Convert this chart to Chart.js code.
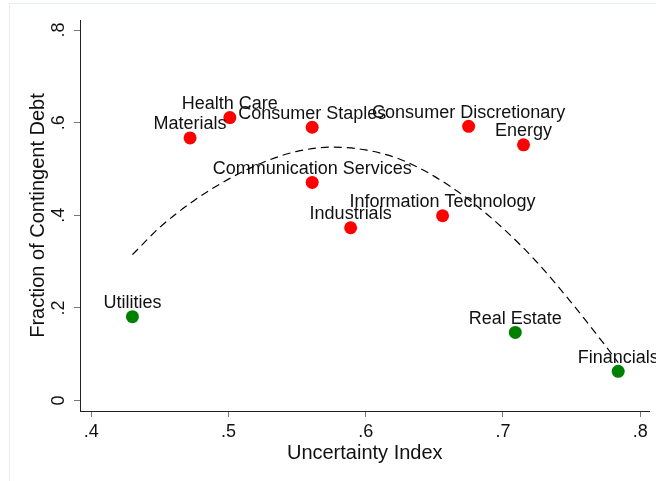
<!DOCTYPE html>
<html lang="en">
<head>
<meta charset="UTF-8">
<title>Fraction of Contingent Debt vs Uncertainty Index</title>
<script src="https://cdn.jsdelivr.net/npm/chart.js"></script>
<style>
  html, body { margin: 0; padding: 0; background: #fff; }
  #wrap { position: relative; width: 656px; height: 481px; overflow: hidden; }
  #frame { position: absolute; left: 9px; top: 3px; width: 700px; height: 520px; border: 1px solid #e8eef0; }
  canvas { position: absolute; left: 0; top: 0; }
</style>
</head>
<body>
<div id="wrap">
  <div id="frame"></div>
  <canvas id="chart" width="656" height="481"></canvas>
</div>
<script>
// sectors with high contingent debt (red)
var highNames = ['Materials', 'Health Care', 'Consumer Staples', 'Communication Services', 'Industrials',
                 'Information Technology', 'Consumer Discretionary', 'Energy'];
var highX = [0.472, 0.501, 0.561, 0.561, 0.589, 0.656, 0.675, 0.715];
var highY = [0.567, 0.611, 0.590, 0.471, 0.373, 0.399, 0.592, 0.552];

// sectors with low contingent debt (green)
var lowNames = ['Utilities', 'Real Estate', 'Financials'];
var lowX = [0.430, 0.709, 0.784];
var lowY = [0.181, 0.147, 0.063];

// quadratic fit
var fitX = [0.430, 0.450, 0.475, 0.500, 0.525, 0.550, 0.575, 0.600, 0.625, 0.650, 0.675, 0.700, 0.725, 0.750, 0.775, 0.784];
var fitY = [0.315, 0.374, 0.432, 0.478, 0.514, 0.538, 0.547, 0.541, 0.521, 0.484, 0.434, 0.372, 0.298, 0.211, 0.117, 0.082];

// axis ticks
var xTicks = [0.4, 0.5, 0.6, 0.7, 0.8];
var xTickLabels = ['.4', '.5', '.6', '.7', '.8'];
var yTicks = [0, 0.2, 0.4, 0.6, 0.8];
var yTickLabels = ['0', '.2', '.4', '.6', '.8'];

var FONT = '"Liberation Sans", Arial, Helvetica, sans-serif';

function toPoints(xs, ys) {
    return xs.map(function (x, i) { return { x: x, y: ys[i] }; });
}

// names above each marker (12 o'clock)
var pointLabels = {
    id: 'pointLabels',
    afterDatasetsDraw: function (chart) {
        var ctx = chart.ctx;
        ctx.save();
        ctx.font = '18px ' + FONT;
        ctx.fillStyle = '#111';
        ctx.textAlign = 'center';
        ctx.textBaseline = 'middle';
        chart.data.datasets.forEach(function (ds, i) {
            if (!ds.names) return;
            chart.getDatasetMeta(i).data.forEach(function (pt, j) {
                ctx.fillText(ds.names[j], pt.x, pt.y - 13.5);
            });
        });
        ctx.restore();
    }
};

// vertical y tick labels
var yLabels = {
    id: 'yLabels',
    afterDraw: function (chart) {
        var ctx = chart.ctx;
        var scale = chart.scales.y;
        ctx.save();
        ctx.font = '18px ' + FONT;
        ctx.fillStyle = '#111';
        ctx.textAlign = 'center';
        ctx.textBaseline = 'middle';
        yTicks.forEach(function (v, i) {
            ctx.save();
            ctx.translate(59, scale.getPixelForValue(v));
            ctx.rotate(-Math.PI / 2);
            ctx.fillText(yTickLabels[i], 0, 0);
            ctx.restore();
        });
        ctx.restore();
    }
};

var ctx = document.getElementById('chart').getContext('2d');
new Chart(ctx, {
    type: 'scatter',
    data: {
        datasets: [
            {
                label: 'Fit',
                data: toPoints(fitX, fitY),
                showLine: true,
                borderColor: '#000',
                borderWidth: 1.2,
                borderDash: [8, 5],
                cubicInterpolationMode: 'monotone',
                pointRadius: 0,
                pointHoverRadius: 0
            },
            {
                label: 'High',
                names: highNames,
                data: toPoints(highX, highY),
                backgroundColor: '#ff0000',
                borderColor: '#ff0000',
                pointRadius: 6.5,
                borderWidth: 0
            },
            {
                label: 'Low',
                names: lowNames,
                data: toPoints(lowX, lowY),
                backgroundColor: '#008000',
                borderColor: '#008000',
                pointRadius: 6.5,
                borderWidth: 0
            }
        ]
    },
    options: {
        responsive: false,
        animation: false,
        devicePixelRatio: 1,
        layout: { padding: { top: 20, right: 5, left: 0, bottom: 0 } },
        plugins: {
            legend: { display: false },
            tooltip: { enabled: false }
        },
        scales: {
            x: {
                type: 'linear',
                min: 0.3918,
                max: 0.8068,
                afterFit: function (scale) { scale.height = 70; },
                afterBuildTicks: function (scale) {
                    scale.ticks = xTicks.map(function (v) { return { value: v }; });
                },
                grid: { drawOnChartArea: false, drawTicks: true, tickLength: 6, tickColor: '#777' },
                border: { color: '#222', width: 1 },
                ticks: {
                    padding: 4,
                    color: '#111',
                    font: { family: FONT, size: 18 },
                    maxRotation: 0,
                    callback: function (value, index) { return xTickLabels[index]; }
                },
                title: {
                    display: true,
                    text: 'Uncertainty Index',
                    color: '#111',
                    font: { family: FONT, size: 20 },
                    padding: { top: 0, bottom: 16 }
                }
            },
            y: {
                type: 'linear',
                min: -0.0226,
                max: 0.8216,
                afterFit: function (scale) { scale.width = 80; },
                afterBuildTicks: function (scale) {
                    scale.ticks = yTicks.map(function (v) { return { value: v }; });
                },
                grid: { drawOnChartArea: false, drawTicks: true, tickLength: 6, tickColor: '#777' },
                border: { color: '#222', width: 1 },
                ticks: { display: false },
                title: {
                    display: true,
                    text: 'Fraction of Contingent Debt',
                    color: '#111',
                    font: { family: FONT, size: 20 },
                    padding: { top: 26, bottom: 0 }
                }
            }
        }
    },
    plugins: [pointLabels, yLabels]
});
</script>
</body>
</html>
